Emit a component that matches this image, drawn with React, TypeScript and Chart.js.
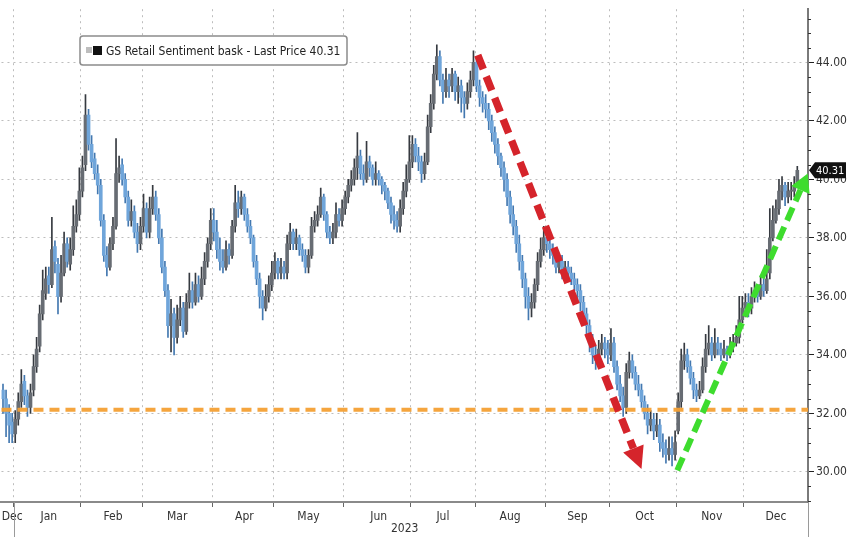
import React, { useEffect, useRef } from 'react';
import { Chart, registerables } from 'chart.js';

Chart.register(...registerables);

const FONT = '"DejaVu Sans Condensed", "Liberation Sans Narrow", "Arial Narrow", sans-serif';

// ---------- categories (trading days) ----------
const firstDay = [2022, 11, 27];
const lastDay = [2023, 11, 29];
const monthNames = ['Jan', 'Feb', 'Mar', 'Apr', 'May', 'Jun', 'Jul', 'Aug', 'Sep', 'Oct', 'Nov', 'Dec'];
const yearLabel = '2023';

// ---------- series, one line per month ----------
const open = [
  32.8, 32.5, 32.0, 31.7,
  31.3, 31.8, 32.4, 33.1, 32.6, 32.2, 32.8, 33.6, 34.3, 35.4, 36.1, 36.7, 36.4, 37.7, 37.1, 36.0, 36.8, 37.8, 37.1, 37.6, 38.4, 38.8,
  39.6, 40.5, 42.2, 41.2, 40.7, 40.2, 39.8, 38.6, 37.4, 37.0, 37.8, 38.4, 40.2, 40.5, 40.0, 39.4, 38.6, 38.9, 38.2, 37.8,
  38.4, 39.0, 38.2, 39.0, 39.4, 38.8, 38.0, 37.0, 36.2, 35.0, 35.4, 34.6, 35.2, 35.6, 34.8, 35.8, 36.2, 35.8, 36.4, 36.0, 36.6, 37.2, 37.8,
  38.6, 38.2, 37.6, 37.2, 37.0, 37.6, 37.4, 38.4, 39.2, 39.0, 39.4, 38.8, 38.4, 38.0, 37.2, 36.6, 36.0, 35.6, 36.0, 36.4,
  36.8, 37.2, 36.8, 37.0, 36.8, 37.8, 38.2, 37.8, 38.0, 37.6, 37.4, 37.0, 37.4, 38.4, 38.6, 38.8, 39.4, 38.8, 38.2, 38.0, 38.2, 38.8, 38.6,
  39.0, 39.4, 39.8, 40.0, 40.4, 40.8, 40.2, 40.0, 40.6, 40.4, 40.0, 40.2, 40.0, 39.8, 39.6, 39.2, 38.8, 38.6, 38.4, 39.0, 39.6, 40.0,
  40.6, 41.2, 40.8, 40.6, 40.2, 40.6, 41.8, 42.6, 43.6, 44.2, 43.4, 43.0, 43.4, 43.2, 43.6, 43.0, 43.2, 42.8, 42.6, 43.0, 43.4,
  44.0, 43.2, 42.8, 42.6, 42.4, 42.0, 41.6, 41.2, 40.8, 40.4, 40.0, 39.4, 38.8, 38.4, 37.8, 37.2, 36.6, 36.0, 35.6, 35.8, 36.4, 37.2, 37.6,
  38.0, 37.8, 37.6, 37.4, 37.0, 37.2, 36.8, 37.0, 36.8, 36.6, 36.4, 36.2, 35.8, 35.4, 35.0, 34.4, 34.0, 33.8, 34.2, 34.4, 34.2,
  34.0, 34.4, 33.6, 33.0, 32.6, 32.2, 33.4, 33.8, 33.4, 33.0, 32.8, 32.4, 32.0, 31.6, 31.8, 31.4, 31.6, 31.0, 30.8, 30.6, 30.8, 30.6,
  31.4, 32.4, 33.8, 34.0, 33.6, 33.2, 32.8, 32.6, 32.8, 33.6, 34.2, 34.4, 34.0, 34.4, 34.2, 34.0, 34.2, 34.0, 34.3, 34.4, 34.6, 35.2,
  35.6, 35.8, 35.6, 36.0, 36.2, 36.0, 36.4, 36.2, 36.8, 38.0, 38.6, 39.0, 39.6, 39.8, 39.4, 39.6, 39.6, 39.9,
];
const high = [
  33.0, 32.8, 32.3, 32.0,
  32.1, 32.7, 33.5, 33.3, 32.8, 33.0, 34.0, 34.6, 35.7, 36.9, 37.0, 37.0, 38.7, 37.9, 37.3, 37.4, 38.2, 38.0, 38.0, 39.1, 39.3, 40.4,
  40.8, 42.9, 42.4, 41.5, 40.9, 40.5, 40.0, 38.8, 37.7, 38.0, 38.7, 41.4, 40.8, 40.7, 40.2, 39.6, 39.3, 39.1, 38.5, 38.7,
  39.5, 39.2, 39.4, 39.8, 39.6, 39.0, 38.3, 37.2, 36.4, 35.9, 35.6, 35.7, 36.0, 35.8, 36.1, 36.8, 36.5, 36.8, 36.7, 37.0, 37.5, 38.0, 39.0,
  39.0, 38.6, 38.0, 37.6, 37.9, 37.8, 38.6, 39.8, 39.6, 39.6, 39.5, 39.0, 38.6, 38.1, 37.4, 36.8, 36.2, 36.4, 36.7, 37.2,
  37.5, 37.3, 37.3, 37.2, 38.1, 38.5, 38.3, 38.3, 38.1, 37.8, 37.6, 37.6, 38.7, 38.9, 39.1, 39.7, 39.5, 38.9, 38.4, 38.5, 39.2, 39.0, 39.3,
  39.6, 40.0, 40.3, 40.7, 41.6, 41.0, 40.5, 41.3, 40.8, 40.5, 40.6, 40.3, 40.1, 39.9, 39.7, 39.4, 39.1, 38.9, 39.3, 39.9, 40.5, 41.5,
  41.5, 41.4, 41.1, 40.8, 40.9, 42.2, 42.9, 43.9, 44.6, 44.4, 43.6, 43.8, 43.6, 43.8, 43.7, 43.5, 43.4, 43.0, 43.3, 43.7, 44.4,
  44.1, 43.4, 43.0, 42.9, 42.6, 42.2, 41.8, 41.4, 40.9, 40.6, 40.2, 39.6, 39.1, 38.6, 38.1, 37.4, 36.8, 36.3, 36.1, 36.6, 37.5, 38.0, 38.4,
  38.2, 38.0, 37.8, 37.6, 37.4, 37.4, 37.2, 37.2, 37.0, 36.8, 36.6, 36.4, 36.0, 35.6, 35.2, 34.7, 34.3, 34.5, 34.7, 34.6, 34.5,
  34.9, 34.6, 33.8, 33.3, 32.9, 33.7, 34.1, 34.0, 33.6, 33.3, 33.0, 32.6, 32.3, 32.1, 32.0, 32.0, 31.8, 31.3, 31.1, 31.2, 31.2, 31.4,
  32.7, 34.2, 34.4, 34.2, 33.8, 33.4, 33.0, 33.1, 33.9, 34.7, 35.0, 34.6, 34.9, 34.6, 34.4, 34.5, 34.3, 34.6, 34.7, 35.0, 36.0, 36.0,
  36.1, 36.1, 36.3, 36.5, 36.4, 36.7, 36.6, 37.6, 39.0, 39.1, 39.3, 40.0, 40.1, 39.9, 39.9, 39.9, 40.1, 40.45,
];
const low = [
  32.0, 31.2, 31.0, 31.0,
  31.0, 31.6, 32.2, 32.3, 31.9, 32.0, 32.6, 33.4, 34.1, 35.2, 35.9, 36.1, 36.3, 36.8, 35.4, 35.8, 36.7, 37.0, 36.9, 37.4, 38.2, 38.6,
  39.4, 40.3, 41.0, 40.4, 40.0, 39.5, 38.4, 37.2, 36.7, 36.9, 37.6, 38.3, 39.9, 39.8, 39.2, 38.4, 38.4, 38.0, 37.5, 37.6,
  38.2, 38.0, 38.0, 38.8, 38.6, 37.8, 36.8, 36.0, 34.6, 34.1, 34.0, 34.4, 35.0, 34.6, 34.7, 35.6, 35.6, 35.7, 35.8, 35.9, 36.4, 37.0, 37.6,
  37.9, 37.3, 36.9, 36.8, 36.9, 37.1, 37.3, 38.2, 38.7, 38.8, 38.6, 38.2, 37.8, 37.0, 36.4, 35.6, 35.2, 35.5, 35.8, 36.2,
  36.6, 36.6, 36.6, 36.6, 36.6, 37.6, 37.6, 37.6, 37.4, 37.2, 36.8, 36.8, 37.3, 38.2, 38.4, 38.7, 38.6, 38.0, 37.8, 37.8, 38.0, 38.4, 38.4,
  38.8, 39.2, 39.6, 39.8, 40.0, 40.0, 39.8, 39.9, 40.1, 39.8, 39.8, 39.8, 39.5, 39.3, 39.0, 38.5, 38.3, 38.2, 38.2, 38.8, 39.4, 39.9,
  40.4, 40.6, 40.3, 39.9, 40.0, 40.5, 41.6, 42.4, 43.4, 43.2, 42.6, 42.8, 42.8, 43.0, 42.7, 42.6, 42.3, 42.1, 42.4, 42.8, 43.2,
  43.0, 42.5, 42.3, 42.1, 41.7, 41.3, 40.9, 40.5, 40.1, 39.6, 39.1, 38.5, 38.1, 37.5, 36.9, 36.3, 35.6, 35.2, 35.3, 35.6, 36.2, 37.0, 37.4,
  37.5, 37.3, 37.1, 36.8, 36.8, 36.6, 36.6, 36.6, 36.4, 36.2, 35.9, 35.5, 35.1, 34.7, 34.1, 33.7, 33.5, 33.6, 34.0, 33.9, 33.7,
  33.8, 33.4, 32.8, 32.4, 31.9, 32.0, 33.2, 33.2, 32.8, 32.6, 32.2, 31.8, 31.3, 31.4, 31.1, 31.2, 30.7, 30.5, 30.3, 30.4, 30.2, 30.4,
  31.3, 32.2, 33.5, 33.4, 33.0, 32.5, 32.4, 32.5, 32.7, 33.4, 34.0, 33.8, 33.9, 34.0, 33.8, 33.9, 33.8, 33.9, 34.1, 34.3, 34.4, 35.1,
  35.3, 35.3, 35.4, 35.8, 35.8, 35.9, 36.0, 36.1, 36.6, 37.9, 38.5, 38.8, 39.3, 39.1, 39.2, 39.3, 39.4, 39.8,
];
const close = [
  32.5, 32.0, 31.6, 31.3,
  31.8, 32.4, 33.0, 32.6, 32.2, 32.7, 33.6, 34.2, 35.4, 36.2, 36.6, 36.4, 37.6, 37.2, 36.0, 36.8, 37.8, 37.2, 37.6, 38.4, 38.8, 39.6,
  40.4, 42.2, 41.2, 40.6, 40.2, 39.8, 38.6, 37.4, 37.0, 37.8, 38.4, 40.2, 40.4, 40.0, 39.4, 38.6, 38.9, 38.2, 37.8, 38.4,
  39.0, 38.2, 39.0, 39.4, 38.8, 38.0, 37.0, 36.2, 35.0, 35.4, 34.6, 35.2, 35.6, 34.8, 35.8, 36.2, 35.8, 36.4, 36.0, 36.6, 37.2, 37.8, 38.6,
  38.2, 37.6, 37.2, 37.0, 37.6, 37.4, 38.4, 39.2, 39.0, 39.4, 38.8, 38.4, 38.0, 37.2, 36.6, 36.0, 35.6, 36.0, 36.4, 36.8,
  37.2, 36.8, 37.0, 36.8, 37.8, 38.2, 37.8, 38.0, 37.6, 37.4, 37.0, 37.4, 38.4, 38.6, 38.8, 39.4, 38.8, 38.2, 38.0, 38.2, 38.8, 38.6, 39.0,
  39.4, 39.8, 40.0, 40.4, 40.8, 40.2, 40.0, 40.6, 40.4, 40.0, 40.2, 40.0, 39.8, 39.6, 39.2, 38.8, 38.6, 38.4, 39.0, 39.6, 40.0, 40.6,
  41.2, 40.8, 40.6, 40.2, 40.6, 41.8, 42.6, 43.6, 44.2, 43.4, 43.0, 43.4, 43.2, 43.6, 43.0, 43.2, 42.8, 42.6, 43.0, 43.4, 44.0,
  43.2, 42.8, 42.6, 42.4, 42.0, 41.6, 41.2, 40.8, 40.4, 40.0, 39.4, 38.8, 38.4, 37.8, 37.2, 36.6, 36.0, 35.6, 35.8, 36.4, 37.2, 37.6, 38.0,
  37.8, 37.6, 37.4, 37.0, 37.2, 36.8, 37.0, 36.8, 36.6, 36.4, 36.2, 35.8, 35.4, 35.0, 34.4, 34.0, 33.8, 34.2, 34.4, 34.2, 34.0,
  34.4, 33.6, 33.0, 32.6, 32.2, 33.4, 33.8, 33.4, 33.0, 32.8, 32.4, 32.0, 31.6, 31.8, 31.4, 31.6, 31.0, 30.8, 30.6, 30.8, 30.6, 31.0,
  32.4, 33.8, 34.0, 33.6, 33.2, 32.8, 32.6, 32.8, 33.6, 34.2, 34.4, 34.0, 34.4, 34.2, 34.0, 34.2, 34.0, 34.3, 34.4, 34.6, 35.2, 35.6,
  35.8, 35.6, 36.0, 36.2, 36.0, 36.4, 36.2, 36.6, 38.0, 38.6, 39.0, 39.6, 39.8, 39.4, 39.6, 39.6, 39.8, 40.31,
];

// ---------- axis values ----------
const yTicks = [30, 32, 34, 36, 38, 40, 42, 44];
const yMin = 28.97;
const yMax = 45.82;
const lastPrice = 40.31;
const legendText = 'GS Retail Sentiment bask - Last Price 40.31';

// ---------- annotations: [trading-day index, price] ----------
const baseLevel = 32.12;
const redArrow = [[155.4, 44.25], [209.0, 30.1]];
const greenArrow = [[220.7, 30.05], [263.4, 40.2]];

// ---------- derived category info ----------
function buildDays() {
  const out = [];
  const d = new Date(Date.UTC(firstDay[0], firstDay[1], firstDay[2]));
  const end = new Date(Date.UTC(lastDay[0], lastDay[1], lastDay[2]));
  while (d <= end) {
    const wd = d.getUTCDay();
    if (wd !== 0 && wd !== 6) out.push(new Date(d.getTime()));
    d.setUTCDate(d.getUTCDate() + 1);
  }
  return out;
}
const days = buildDays();
const dayLabels = days.map((d) => d.toISOString().slice(0, 10));

const monthGroups = [];
days.forEach((d, i) => {
  const key = d.getUTCFullYear() * 12 + d.getUTCMonth();
  const g = monthGroups[monthGroups.length - 1];
  if (!g || g.key !== key) monthGroups.push({ key, month: d.getUTCMonth(), first: i, last: i });
  else g.last = i;
});
const labelAt = new Map();
monthGroups.forEach((g, k) => {
  const idx = k === 0 ? g.last : Math.round((g.first + g.last) / 2);
  labelAt.set(idx, monthNames[g.month]);
});
const boundaries = new Set(monthGroups.slice(1).map((g) => g.first));
boundaries.add(days.length);
const yearBounds = [monthGroups[1].first, days.length];

const UP_FILL = '#676c73';
const UP_EDGE = '#363a40';
const DN_FILL = '#6fa5da';
const DN_EDGE = '#4378b0';

function drawArrow(ctx, xs, ys, pts, color, width, dash, headLen, headHalf) {
  const x0 = xs.getPixelForValue(pts[0][0]);
  const y0 = ys.getPixelForValue(pts[0][1]);
  const x1 = xs.getPixelForValue(pts[1][0]);
  const y1 = ys.getPixelForValue(pts[1][1]);
  const ang = Math.atan2(y1 - y0, x1 - x0);
  const bx = x1 - headLen * Math.cos(ang);
  const by = y1 - headLen * Math.sin(ang);
  ctx.save();
  ctx.strokeStyle = color;
  ctx.lineWidth = width;
  ctx.setLineDash(dash);
  ctx.lineCap = 'butt';
  ctx.beginPath();
  ctx.moveTo(x0, y0);
  ctx.lineTo(bx, by);
  ctx.stroke();
  ctx.setLineDash([]);
  ctx.fillStyle = color;
  ctx.beginPath();
  ctx.moveTo(x1, y1);
  ctx.lineTo(bx - headHalf * Math.sin(ang), by + headHalf * Math.cos(ang));
  ctx.lineTo(bx + headHalf * Math.sin(ang), by - headHalf * Math.cos(ang));
  ctx.closePath();
  ctx.fill();
  ctx.restore();
}

const extrasPlugin = {
  id: 'extras',
  afterDatasetsDraw(chart) {
    const { ctx, chartArea } = chart;
    const xs = chart.scales.x;
    const ys = chart.scales.y;
    ctx.save();
    const yb = ys.getPixelForValue(baseLevel);
    ctx.strokeStyle = 'rgba(244,160,52,0.95)';
    ctx.lineWidth = 4;
    ctx.setLineDash([10, 6]);
    ctx.beginPath();
    ctx.moveTo(chartArea.left, yb);
    ctx.lineTo(chartArea.right, yb);
    ctx.stroke();
    ctx.restore();
    drawArrow(ctx, xs, ys, redArrow, '#d5242b', 7.5, [15, 8], 22, 11);
    drawArrow(ctx, xs, ys, greenArrow, '#3edc2e', 6, [14, 7], 18, 10);
  },
  afterDraw(chart) {
    const { ctx, chartArea } = chart;
    const ys = chart.scales.y;
    const xs = chart.scales.x;
    ctx.save();
    // minor ticks on the price axis
    ctx.strokeStyle = '#333';
    ctx.lineWidth = 1;
    for (let v = 29; v <= 45.5; v += 0.5) {
      if (v % 2 === 0) continue;
      const py = Math.round(ys.getPixelForValue(v)) + 0.5;
      ctx.beginPath();
      ctx.moveTo(chartArea.right, py);
      ctx.lineTo(chartArea.right + 3, py);
      ctx.stroke();
    }
    // year separators below the time axis
    ctx.strokeStyle = '#9a9a9a';
    yearBounds.forEach((i) => {
      const px = Math.round(xs.getPixelForValue(i - 0.5)) + 0.5;
      ctx.beginPath();
      ctx.moveTo(px, chartArea.bottom);
      ctx.lineTo(px, chart.height);
      ctx.stroke();
    });
    // last price tag
    const py = ys.getPixelForValue(lastPrice);
    const tx = chartArea.right + 1;
    ctx.fillStyle = '#111';
    ctx.beginPath();
    ctx.moveTo(tx, py);
    ctx.lineTo(tx + 6, py - 8);
    ctx.lineTo(chart.width - 2, py - 8);
    ctx.lineTo(chart.width - 2, py + 8);
    ctx.lineTo(tx + 6, py + 8);
    ctx.closePath();
    ctx.fill();
    ctx.fillStyle = '#fff';
    ctx.font = `11px ${FONT}`;
    ctx.textBaseline = 'middle';
    ctx.textAlign = 'left';
    ctx.fillText(lastPrice.toFixed(2), tx + 7, py + 1);
    // legend box
    const lx = 80, ly = 36, lw = 267, lh = 29;
    ctx.fillStyle = '#fff';
    ctx.strokeStyle = '#8c8c8c';
    ctx.lineWidth = 1.5;
    ctx.beginPath();
    ctx.roundRect(lx, ly, lw, lh, 3);
    ctx.fill();
    ctx.stroke();
    ctx.fillStyle = '#bdbdbd';
    ctx.fillRect(lx + 6, ly + 11, 6, 6);
    ctx.fillStyle = '#111';
    ctx.fillRect(lx + 13, ly + 10, 9, 9);
    ctx.fillStyle = '#222';
    ctx.font = `12px ${FONT}`;
    ctx.textBaseline = 'middle';
    ctx.fillText(legendText, lx + 26, ly + lh / 2 + 1);
    ctx.restore();
  },
};

export default function App() {
  const ref = useRef(null);
  useEffect(() => {
    const up = close.map((c, i) => c >= open[i]);
    const chart = new Chart(ref.current, {
      type: 'bar',
      data: {
        labels: dayLabels,
        datasets: [
          {
            label: 'range',
            data: low.map((l, i) => [l, high[i]]),
            backgroundColor: up.map((u) => (u ? UP_EDGE : DN_EDGE)),
            barThickness: 1,
            grouped: false,
            order: 2,
          },
          {
            label: 'body',
            data: open.map((o, i) => [o, close[i]]),
            backgroundColor: up.map((u) => (u ? UP_FILL : DN_FILL)),
            borderWidth: 0,
            barThickness: 3,
            minBarLength: 1,
            grouped: false,
            order: 1,
          },
        ],
      },
      options: {
        animation: false,
        responsive: true,
        maintainAspectRatio: false,
        layout: { padding: 0 },
        plugins: { legend: { display: false }, tooltip: { enabled: false }, title: { display: false } },
        scales: {
          x: {
            type: 'category',
            offset: true,
            grid: {
              offset: true,
              color: (c) => (boundaries.has(c.index) ? '#bdbdbd' : 'rgba(0,0,0,0)'),
              tickColor: (c) => (boundaries.has(c.index) ? '#666' : 'rgba(0,0,0,0)'),
              lineWidth: 1,
              tickLength: 5,
              drawTicks: true,
            },
            border: { display: true, color: '#8a8a8a', width: 2, dash: [2, 4] },
            ticks: {
              autoSkip: false,
              maxRotation: 0,
              minRotation: 0,
              padding: 3,
              color: '#333',
              font: { family: FONT, size: 12 },
              callback: (v, i) => labelAt.get(i) || '',
            },
            title: {
              display: true,
              text: yearLabel,
              color: '#333',
              font: { family: FONT, size: 12 },
              padding: { top: 0, bottom: 1 },
            },
            afterFit: (s) => {
              s.height = 35;
            },
          },
          y: {
            type: 'linear',
            position: 'right',
            min: yMin,
            max: yMax,
            afterBuildTicks: (s) => {
              s.ticks = yTicks.map((v) => ({ value: v }));
            },
            grid: {
              color: '#bdbdbd',
              lineWidth: 1,
              tickLength: 6,
              tickColor: '#222',
              drawTicks: true,
            },
            border: { display: true, color: '#7a7a7a', width: 2, dash: [2, 4] },
            ticks: {
              padding: 2,
              color: '#333',
              font: { family: FONT, size: 12 },
              callback: (v) => Number(v).toFixed(2),
            },
            afterFit: (s) => {
              s.width = 40;
            },
          },
        },
      },
      plugins: [extrasPlugin],
    });
    return () => chart.destroy();
  }, []);
  return (
    <div style={{ position: 'absolute', left: 0, top: 0, width: 848, height: 537, background: '#fff' }}>
      <canvas ref={ref} />
    </div>
  );
}
